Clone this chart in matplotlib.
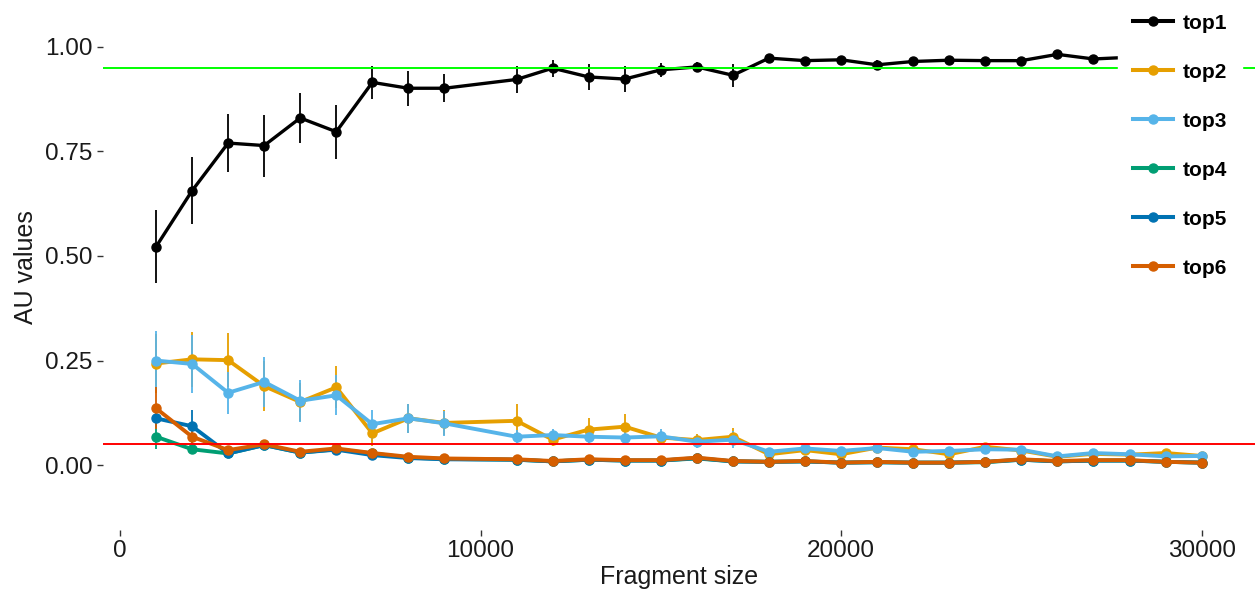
import matplotlib
matplotlib.use("Agg")
import matplotlib.pyplot as plt

plt.rcParams['font.family'] = ['Liberation Sans', 'DejaVu Sans']

fragment_size = [1000, 2000, 3000, 4000, 5000, 6000, 7000, 8000, 9000,
                 11000, 12000, 13000, 14000, 15000, 16000, 17000, 18000, 19000, 20000,
                 21000, 22000, 23000, 24000, 25000, 26000, 27000, 28000, 29000, 30000]

top1 = [0.522, 0.656, 0.770, 0.764, 0.830, 0.797, 0.915, 0.901, 0.901,
        0.922, 0.949, 0.928, 0.923, 0.945, 0.952, 0.932, 0.973, 0.967, 0.969,
        0.957, 0.965, 0.968, 0.967, 0.967, 0.982, 0.971, 0.975, 0.978, 0.978]
top1_err = [0.087, 0.080, 0.070, 0.074, 0.060, 0.065, 0.039, 0.042, 0.034,
            0.033, 0.020, 0.032, 0.030, 0.016, 0.012, 0.028, 0.008, 0.006, 0.006,
            0.012, 0.006, 0.005, 0.005, 0.005, 0.006, 0.005, 0.005, 0.005, 0.005]

top2 = [0.243, 0.253, 0.251, 0.189, 0.151, 0.186, 0.076, 0.112, 0.101,
        0.106, 0.061, 0.085, 0.092, 0.066, 0.060, 0.068, 0.026, 0.036, 0.026,
        0.042, 0.038, 0.026, 0.044, 0.035, 0.020, 0.027, 0.025, 0.029, 0.022]
top2_err = [0.070, 0.065, 0.065, 0.060, 0.045, 0.050, 0.030, 0.035, 0.030,
            0.040, 0.015, 0.027, 0.030, 0.015, 0.015, 0.022, 0.008, 0.008, 0.008,
            0.010, 0.012, 0.006, 0.010, 0.006, 0.005, 0.005, 0.005, 0.005, 0.005]

top3 = [0.250, 0.242, 0.173, 0.199, 0.154, 0.167, 0.098, 0.112, 0.100,
        0.068, 0.072, 0.068, 0.066, 0.069, 0.056, 0.061, 0.032, 0.040, 0.034,
        0.041, 0.032, 0.034, 0.038, 0.037, 0.021, 0.029, 0.026, 0.021, 0.022]
top3_err = [0.070, 0.070, 0.050, 0.060, 0.050, 0.048, 0.035, 0.035, 0.030,
            0.015, 0.015, 0.015, 0.013, 0.017, 0.015, 0.020, 0.008, 0.008, 0.008,
            0.012, 0.006, 0.006, 0.006, 0.005, 0.005, 0.005, 0.005, 0.005, 0.005]

top4 = [0.068, 0.038, 0.028, 0.048, 0.030, 0.038, 0.028, 0.018, 0.015,
        0.013, 0.009, 0.013, 0.011, 0.011, 0.016, 0.009, 0.008, 0.009, 0.006,
        0.007, 0.006, 0.006, 0.007, 0.013, 0.009, 0.011, 0.011, 0.008, 0.006]
top4_err = [0.030, 0.010, 0.008, 0.008, 0.006, 0.008, 0.005, 0.004, 0.004,
            0.004, 0.003, 0.003, 0.003, 0.003, 0.003, 0.003, 0.003, 0.003, 0.003,
            0.003, 0.003, 0.003, 0.003, 0.003, 0.003, 0.003, 0.003, 0.003, 0.003]

top5 = [0.112, 0.093, 0.028, 0.048, 0.030, 0.037, 0.024, 0.017, 0.014,
        0.013, 0.009, 0.013, 0.011, 0.011, 0.017, 0.009, 0.008, 0.009, 0.006,
        0.007, 0.006, 0.006, 0.008, 0.013, 0.009, 0.011, 0.011, 0.008, 0.006]
top5_err = [0.020, 0.039, 0.008, 0.008, 0.006, 0.008, 0.005, 0.004, 0.004,
            0.004, 0.003, 0.003, 0.003, 0.003, 0.003, 0.003, 0.003, 0.003, 0.003,
            0.003, 0.003, 0.003, 0.003, 0.003, 0.003, 0.003, 0.003, 0.003, 0.003]

top6 = [0.136, 0.068, 0.036, 0.050, 0.032, 0.040, 0.029, 0.020, 0.016,
        0.014, 0.010, 0.014, 0.012, 0.012, 0.018, 0.010, 0.008, 0.010, 0.006,
        0.008, 0.006, 0.006, 0.008, 0.014, 0.010, 0.012, 0.012, 0.008, 0.006]
top6_err = [0.050, 0.015, 0.010, 0.008, 0.006, 0.008, 0.005, 0.004, 0.004,
            0.004, 0.003, 0.003, 0.003, 0.003, 0.003, 0.003, 0.003, 0.003, 0.003,
            0.003, 0.003, 0.003, 0.003, 0.003, 0.003, 0.003, 0.003, 0.003, 0.003]

series_names = ['top1', 'top2', 'top3', 'top4', 'top5', 'top6']
series_values = [top1, top2, top3, top4, top5, top6]
series_errors = [top1_err, top2_err, top3_err, top4_err, top5_err, top6_err]
colors = ['#000000', '#E69F00', '#56B4E9', '#009E73', '#0072B2', '#D55E00']

upper_threshold = 0.95
lower_threshold = 0.05

fig = plt.figure(figsize=(12.55, 5.96), dpi=100)
ax = fig.add_axes([103 / 1255, 66 / 596, 1 - 103 / 1255, 525 / 596])

handles = []
for name, vals, errs, col in zip(series_names, series_values, series_errors, colors):
    ax.errorbar(fragment_size, vals, yerr=errs, fmt='none', ecolor=col,
                elinewidth=1.3, capsize=0, zorder=2)
    lw = 2.4 if name == 'top1' else 2.8
    h, = ax.plot(fragment_size, vals, color=col, lw=lw, marker='o', ms=6.5,
                 label=name, zorder=3)
    handles.append(h)

ax.axhline(upper_threshold, color='#00FF00', lw=1.4, zorder=4)
ax.axhline(lower_threshold, color='#FF0000', lw=1.4, zorder=4)

ax.set_xlim(-470, 31480)
ax.set_ylim(-0.155, 1.10)
ax.set_xticks([0, 10000, 20000, 30000])
ax.set_yticks([0.0, 0.25, 0.5, 0.75, 1.0])
ax.set_yticklabels(['0.00', '0.25', '0.50', '0.75', '1.00'])

for s in ax.spines.values():
    s.set_visible(False)
ax.tick_params(axis='both', length=4.3, width=1, color='#333333',
               labelsize=17.5, labelcolor='#1a1a1a', pad=3)
ax.set_xlabel('Fragment size', fontsize=18, color='#1a1a1a', labelpad=2)
ax.set_ylabel('AU values', fontsize=18, color='#1a1a1a', labelpad=5)

leg = ax.legend(handles=handles, loc='upper left',
                bbox_to_anchor=(1118 / 1255, 1 + 1 / 596), bbox_transform=fig.transFigure,
                borderaxespad=0, frameon=True, fancybox=False, edgecolor='white',
                facecolor='white', framealpha=1, handlelength=1.92, handletextpad=0.48,
                labelspacing=1.44, borderpad=0.7,
                prop={'weight': 'bold', 'size': 15})
leg.set_zorder(10)
for lh in leg.get_lines():
    lh.set_linewidth(2.9)

fig.savefig('out.png', dpi=100)
